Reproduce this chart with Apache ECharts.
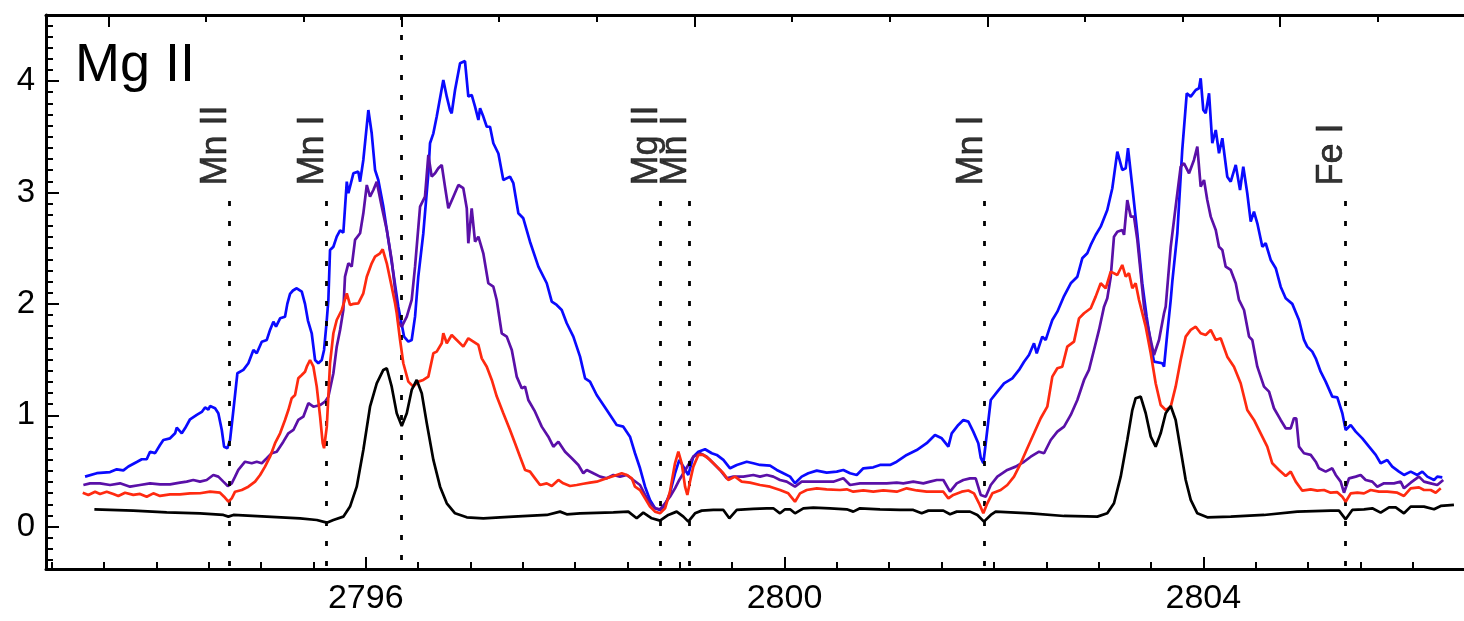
<!DOCTYPE html>
<html>
<head>
<meta charset="utf-8">
<title>Mg II</title>
<script src="https://cdn.jsdelivr.net/npm/echarts@6/dist/echarts.min.js"></script>
<style>
  html, body { margin: 0; padding: 0; background: #fff; overflow: hidden; }
  #chart { width: 1500px; height: 621px; }
</style>
</head>
<body>
<div id="chart"></div>
<script>
// Spectra around the Mg II h & k lines: [wavelength (Å), intensity]
const specBlue = [
  [2793.319,0.449],[2793.431,0.48],[2793.558,0.49],[2793.622,0.515],[2793.685,0.505],[2793.733,0.54],
  [2793.813,0.58],[2793.861,0.605],[2793.908,0.605],[2793.940,0.673],[2793.988,0.66],[2794.035,0.733],
  [2794.067,0.778],[2794.131,0.793],[2794.179,0.838],[2794.195,0.889],[2794.243,0.838],[2794.274,0.883],
  [2794.322,0.964],[2794.386,1.003],[2794.434,1.03],[2794.465,1.07],[2794.497,1.05],[2794.513,1.083],
  [2794.561,1.063],[2794.592,1.018],[2794.625,0.868],[2794.647,0.718],[2794.678,0.704],[2794.704,0.778],
  [2794.736,1.047],[2794.774,1.377],[2794.831,1.407],[2794.879,1.467],[2794.927,1.586],[2794.959,1.556],
  [2795.007,1.66],[2795.055,1.676],[2795.086,1.766],[2795.118,1.84],[2795.143,1.795],[2795.182,1.87],
  [2795.229,1.885],[2795.251,2.0],[2795.277,2.09],[2795.305,2.12],[2795.341,2.14],[2795.389,2.11],
  [2795.420,2.0],[2795.448,1.85],[2795.484,1.736],[2795.516,1.496],[2795.547,1.467],[2795.580,1.496],
  [2795.602,1.586],[2795.628,1.855],[2795.643,2.035],[2795.659,2.483],[2795.691,2.513],[2795.723,2.603],
  [2795.755,2.66],[2795.786,2.64],[2795.819,3.097],[2795.834,2.993],[2795.882,3.172],[2795.929,3.187],
  [2795.946,3.097],[2795.977,3.292],[2796.025,3.74],[2796.057,3.531],[2796.089,3.202],[2796.120,3.112],
  [2796.168,2.873],[2796.216,2.574],[2796.264,2.275],[2796.311,1.975],[2796.366,1.706],[2796.407,1.661],
  [2796.439,1.676],[2796.471,1.885],[2796.502,2.244],[2796.550,2.634],[2796.598,3.172],[2796.614,3.442],
  [2796.646,3.531],[2796.678,3.681],[2796.741,4.01],[2796.774,3.86],[2796.805,3.74],[2796.821,3.711],
  [2796.853,3.92],[2796.901,4.16],[2796.948,4.18],[2796.980,3.86],[2797.012,3.875],[2797.044,3.77],
  [2797.076,3.651],[2797.092,3.756],[2797.123,3.681],[2797.156,3.59],[2797.187,3.59],[2797.219,3.442],
  [2797.267,3.35],[2797.314,3.112],[2797.378,3.142],[2797.410,3.083],[2797.458,2.813],[2797.505,2.768],
  [2797.569,2.558],[2797.649,2.334],[2797.729,2.185],[2797.777,2.02],[2797.824,1.99],[2797.872,1.945],
  [2797.920,1.826],[2797.983,1.706],[2798.047,1.526],[2798.095,1.332],[2798.142,1.302],[2798.206,1.182],
  [2798.302,1.047],[2798.397,0.913],[2798.460,0.898],[2798.524,0.808],[2798.572,0.659],[2798.620,0.524],
  [2798.668,0.359],[2798.715,0.24],[2798.763,0.165],[2798.811,0.15],[2798.859,0.195],[2798.906,0.30],
  [2798.954,0.479],[2798.995,0.599],[2799.034,0.539],[2799.081,0.464],[2799.129,0.628],[2799.177,0.673],
  [2799.241,0.695],[2799.305,0.659],[2799.353,0.644],[2799.416,0.599],[2799.480,0.524],[2799.544,0.554],
  [2799.639,0.583],[2799.702,0.569],[2799.766,0.554],[2799.862,0.548],[2799.926,0.509],[2799.989,0.479],
  [2800.053,0.449],[2800.100,0.39],[2800.164,0.449],[2800.227,0.479],[2800.308,0.503],[2800.403,0.485],
  [2800.499,0.494],[2800.562,0.509],[2800.626,0.479],[2800.690,0.464],[2800.753,0.524],[2800.848,0.533],
  [2800.912,0.554],[2801.008,0.554],[2801.072,0.583],[2801.167,0.644],[2801.263,0.688],[2801.358,0.749],
  [2801.437,0.823],[2801.502,0.793],[2801.565,0.718],[2801.597,0.838],[2801.660,0.913],[2801.708,0.958],
  [2801.756,0.943],[2801.803,0.853],[2801.851,0.749],[2801.874,0.62],[2801.899,0.569],[2801.922,0.749],
  [2801.970,1.137],[2802.033,1.212],[2802.097,1.287],[2802.176,1.332],[2802.240,1.407],[2802.288,1.481],
  [2802.335,1.541],[2802.383,1.646],[2802.409,1.556],[2802.462,1.706],[2802.495,1.676],[2802.526,1.766],
  [2802.558,1.855],[2802.606,1.93],[2802.670,2.07],[2802.734,2.185],[2802.797,2.244],[2802.844,2.409],
  [2802.892,2.454],[2802.925,2.529],[2802.972,2.618],[2803.020,2.693],[2803.083,2.843],[2803.131,3.038],
  [2803.179,3.366],[2803.226,3.202],[2803.259,3.217],[2803.281,3.397],[2803.322,3.052],[2803.370,2.634],
  [2803.417,2.185],[2803.459,1.885],[2803.498,1.646],[2803.529,1.481],[2803.608,1.467],[2803.625,1.436],
  [2803.656,1.736],[2803.689,2.035],[2803.704,2.2],[2803.752,2.634],[2803.799,3.382],[2803.842,3.89],
  [2803.880,3.86],[2803.928,3.92],[2803.959,3.935],[2803.975,4.025],[2804.000,3.74],[2804.023,3.711],
  [2804.055,3.89],[2804.086,3.442],[2804.119,3.561],[2804.150,3.352],[2804.182,3.487],[2804.229,3.142],
  [2804.262,3.097],[2804.310,3.247],[2804.351,3.022],[2804.382,3.232],[2804.420,2.993],[2804.453,2.738],
  [2804.484,2.828],[2804.516,2.723],[2804.564,2.513],[2804.596,2.544],[2804.644,2.394],[2804.692,2.32],
  [2804.739,2.154],[2804.787,2.05],[2804.850,2.0],[2804.914,1.855],[2804.962,1.676],[2804.993,1.616],
  [2805.041,1.571],[2805.074,1.511],[2805.121,1.391],[2805.169,1.302],[2805.232,1.167],[2805.280,1.16],
  [2805.328,1.018],[2805.360,0.868],[2805.408,0.913],[2805.456,0.853],[2805.519,0.793],[2805.583,0.718],
  [2805.647,0.644],[2805.694,0.569],[2805.757,0.599],[2805.805,0.539],[2805.869,0.494],[2805.917,0.464],
  [2805.981,0.494],[2806.044,0.464],[2806.092,0.494],[2806.140,0.449],[2806.204,0.419],[2806.235,0.449],
  [2806.283,0.443]
];

const specPurple = [
  [2793.303,0.374],[2793.367,0.389],[2793.462,0.389],[2793.558,0.374],[2793.653,0.389],[2793.749,0.359],
  [2793.844,0.374],[2793.940,0.389],[2794.035,0.38],[2794.131,0.38],[2794.226,0.395],[2794.290,0.404],
  [2794.353,0.419],[2794.417,0.404],[2794.481,0.419],[2794.544,0.464],[2794.592,0.449],[2794.640,0.404],
  [2794.682,0.365],[2794.720,0.389],[2794.752,0.449],[2794.783,0.509],[2794.847,0.583],[2794.911,0.569],
  [2794.959,0.583],[2795.007,0.569],[2795.055,0.614],[2795.102,0.659],[2795.150,0.673],[2795.213,0.763],
  [2795.261,0.838],[2795.309,0.868],[2795.356,0.958],[2795.404,0.987],[2795.452,1.108],[2795.500,1.077],
  [2795.564,1.092],[2795.611,1.122],[2795.643,1.167],[2795.691,1.377],[2795.723,1.616],[2795.755,1.766],
  [2795.786,1.945],[2795.802,2.244],[2795.834,2.364],[2795.866,2.334],[2795.898,2.574],[2795.946,2.634],
  [2795.977,2.813],[2796.010,3.067],[2796.041,2.962],[2796.073,3.022],[2796.105,3.097],[2796.153,2.873],
  [2796.201,2.663],[2796.248,2.394],[2796.296,2.0],[2796.311,1.84],[2796.344,1.795],[2796.392,1.885],
  [2796.439,2.035],[2796.471,2.334],[2796.519,2.873],[2796.566,2.962],[2796.598,3.337],[2796.630,3.142],
  [2796.662,3.172],[2796.693,3.217],[2796.726,3.247],[2796.757,3.052],[2796.789,2.858],[2796.837,2.962],
  [2796.885,3.067],[2796.932,3.038],[2796.965,2.858],[2796.980,2.544],[2797.012,2.858],[2797.044,2.558],
  [2797.076,2.603],[2797.123,2.454],[2797.171,2.185],[2797.219,2.154],[2797.251,2.035],[2797.299,1.736],
  [2797.347,1.706],[2797.395,1.586],[2797.442,1.347],[2797.490,1.242],[2797.522,1.257],[2797.553,1.137],
  [2797.617,1.032],[2797.681,0.898],[2797.744,0.808],[2797.792,0.718],[2797.840,0.763],[2797.904,0.673],
  [2797.968,0.614],[2798.031,0.554],[2798.078,0.479],[2798.111,0.509],[2798.174,0.479],[2798.238,0.449],
  [2798.302,0.434],[2798.365,0.464],[2798.429,0.449],[2798.493,0.464],[2798.556,0.419],[2798.620,0.374],
  [2798.668,0.285],[2798.715,0.21],[2798.763,0.165],[2798.811,0.156],[2798.859,0.21],[2798.906,0.269],
  [2798.954,0.344],[2798.995,0.419],[2799.034,0.479],[2799.081,0.554],[2799.129,0.628],[2799.193,0.659],
  [2799.257,0.628],[2799.320,0.569],[2799.384,0.509],[2799.448,0.434],[2799.511,0.449],[2799.607,0.449],
  [2799.702,0.464],[2799.766,0.449],[2799.830,0.464],[2799.893,0.449],[2799.957,0.419],[2800.021,0.404],
  [2800.100,0.359],[2800.164,0.404],[2800.275,0.404],[2800.371,0.404],[2800.466,0.404],[2800.562,0.434],
  [2800.626,0.374],[2800.721,0.389],[2800.848,0.389],[2800.976,0.389],[2801.072,0.395],[2801.135,0.389],
  [2801.230,0.404],[2801.326,0.389],[2801.390,0.404],[2801.454,0.419],[2801.517,0.419],[2801.581,0.314],
  [2801.645,0.389],[2801.708,0.419],[2801.772,0.434],[2801.826,0.434],[2801.874,0.285],[2801.922,0.269],
  [2801.970,0.374],[2802.033,0.449],[2802.128,0.509],[2802.208,0.539],[2802.288,0.583],[2802.352,0.628],
  [2802.431,0.673],[2802.479,0.659],[2802.543,0.778],[2802.606,0.853],[2802.670,0.898],[2802.734,1.003],
  [2802.797,1.137],[2802.861,1.317],[2802.908,1.407],[2802.956,1.586],[2803.004,1.766],[2803.052,1.975],
  [2803.083,2.05],[2803.116,2.244],[2803.147,2.603],[2803.179,2.648],[2803.226,2.663],[2803.243,2.62],
  [2803.274,2.932],[2803.307,2.783],[2803.338,2.783],[2803.370,2.574],[2803.402,2.275],[2803.434,1.975],
  [2803.450,1.885],[2803.498,1.676],[2803.529,1.541],[2803.577,1.676],[2803.625,1.916],[2803.641,1.975],
  [2803.689,2.513],[2803.736,2.873],[2803.784,3.232],[2803.816,3.262],[2803.864,3.172],[2803.911,3.292],
  [2803.943,3.411],[2803.975,3.052],[2804.007,3.112],[2804.038,2.932],[2804.071,2.783],[2804.119,2.663],
  [2804.150,2.513],[2804.182,2.484],[2804.214,2.334],[2804.262,2.304],[2804.310,2.185],[2804.341,2.035],
  [2804.389,1.945],[2804.437,1.706],[2804.468,1.676],[2804.516,1.436],[2804.580,1.257],[2804.628,1.212],
  [2804.675,1.063],[2804.739,0.958],[2804.787,0.883],[2804.835,0.883],[2804.866,0.973],[2804.888,0.973],
  [2804.914,0.718],[2804.962,0.659],[2805.026,0.644],[2805.074,0.583],[2805.105,0.524],[2805.169,0.494],
  [2805.232,0.524],[2805.265,0.464],[2805.312,0.404],[2805.344,0.305],[2805.392,0.434],[2805.456,0.449],
  [2805.503,0.464],[2805.551,0.419],[2805.614,0.404],[2805.662,0.359],[2805.726,0.389],[2805.821,0.389],
  [2805.885,0.404],[2805.917,0.344],[2805.981,0.395],[2806.060,0.449],[2806.108,0.404],[2806.172,0.389],
  [2806.235,0.374],[2806.292,0.419]
];

const specRed = [
  [2793.297,0.305],[2793.351,0.285],[2793.415,0.314],[2793.462,0.294],[2793.526,0.314],[2793.589,0.294],
  [2793.637,0.276],[2793.701,0.305],[2793.780,0.285],[2793.844,0.294],[2793.908,0.269],[2793.971,0.299],
  [2794.035,0.276],[2794.131,0.29],[2794.226,0.29],[2794.322,0.299],[2794.417,0.30],[2794.513,0.314],
  [2794.608,0.305],[2794.647,0.269],[2794.688,0.224],[2794.720,0.254],[2794.752,0.314],[2794.816,0.329],
  [2794.879,0.359],[2794.943,0.404],[2794.991,0.464],[2795.038,0.539],[2795.086,0.628],[2795.134,0.749],
  [2795.182,0.838],[2795.229,0.958],[2795.261,1.047],[2795.293,1.153],[2795.325,1.182],[2795.356,1.332],
  [2795.389,1.362],[2795.420,1.391],[2795.437,1.436],[2795.468,1.496],[2795.500,1.436],[2795.532,1.257],
  [2795.564,0.987],[2795.589,0.749],[2795.602,0.704],[2795.628,0.898],[2795.659,1.467],[2795.691,1.736],
  [2795.723,1.855],[2795.771,1.945],[2795.819,2.095],[2795.850,1.99],[2795.882,2.0],[2795.929,2.005],
  [2795.977,2.095],[2796.010,2.244],[2796.057,2.364],[2796.089,2.424],[2796.137,2.454],[2796.162,2.49],
  [2796.201,2.364],[2796.248,2.154],[2796.280,2.005],[2796.296,1.916],[2796.328,1.676],[2796.359,1.467],
  [2796.407,1.302],[2796.455,1.257],[2796.502,1.302],[2796.550,1.317],[2796.598,1.347],[2796.646,1.556],
  [2796.678,1.571],[2796.726,1.646],[2796.741,1.736],[2796.774,1.646],[2796.821,1.721],[2796.869,1.676],
  [2796.932,1.616],[2796.980,1.691],[2797.028,1.661],[2797.076,1.631],[2797.108,1.511],[2797.156,1.436],
  [2797.204,1.317],[2797.251,1.17],[2797.314,1.018],[2797.378,0.868],[2797.426,0.749],[2797.474,0.628],
  [2797.522,0.509],[2797.569,0.494],[2797.617,0.434],[2797.665,0.374],[2797.729,0.389],[2797.777,0.365],
  [2797.840,0.419],[2797.887,0.389],[2797.951,0.365],[2798.015,0.374],[2798.078,0.385],[2798.142,0.395],
  [2798.206,0.404],[2798.302,0.434],[2798.397,0.464],[2798.445,0.479],[2798.493,0.464],[2798.541,0.434],
  [2798.572,0.359],[2798.620,0.329],[2798.668,0.254],[2798.715,0.18],[2798.763,0.135],[2798.811,0.12],
  [2798.859,0.165],[2798.906,0.314],[2798.954,0.569],[2798.986,0.673],[2799.018,0.569],[2799.050,0.359],
  [2799.072,0.285],[2799.097,0.404],[2799.129,0.539],[2799.177,0.644],[2799.225,0.644],[2799.289,0.599],
  [2799.353,0.539],[2799.416,0.479],[2799.463,0.419],[2799.527,0.449],[2799.591,0.404],[2799.671,0.395],
  [2799.766,0.374],[2799.862,0.359],[2799.957,0.329],[2800.036,0.299],[2800.100,0.224],[2800.148,0.299],
  [2800.212,0.329],[2800.308,0.344],[2800.403,0.335],[2800.530,0.329],[2800.594,0.335],[2800.657,0.314],
  [2800.753,0.325],[2800.848,0.314],[2800.944,0.325],[2801.072,0.314],[2801.167,0.344],[2801.263,0.325],
  [2801.358,0.314],[2801.454,0.314],[2801.517,0.314],[2801.565,0.254],[2801.612,0.285],[2801.693,0.314],
  [2801.756,0.325],[2801.810,0.299],[2801.858,0.21],[2801.899,0.12],[2801.937,0.21],[2801.985,0.299],
  [2802.065,0.329],[2802.128,0.374],[2802.192,0.449],[2802.256,0.569],[2802.319,0.704],[2802.383,0.838],
  [2802.447,0.973],[2802.510,1.077],[2802.558,1.347],[2802.606,1.422],[2802.653,1.436],[2802.701,1.616],
  [2802.765,1.661],[2802.813,1.87],[2802.861,1.916],[2802.925,1.961],[2802.972,2.065],[2803.020,2.185],
  [2803.068,2.14],[2803.116,2.289],[2803.179,2.259],[2803.226,2.349],[2803.259,2.244],[2803.290,2.275],
  [2803.322,2.14],[2803.354,2.185],[2803.386,2.035],[2803.450,1.795],[2803.498,1.556],[2803.545,1.287],
  [2803.593,1.092],[2803.641,1.047],[2803.689,1.077],[2803.736,1.257],[2803.784,1.496],[2803.832,1.706],
  [2803.880,1.766],[2803.928,1.795],[2803.975,1.736],[2804.023,1.721],[2804.071,1.766],[2804.119,1.676],
  [2804.166,1.691],[2804.229,1.526],[2804.293,1.436],[2804.357,1.287],[2804.420,1.047],[2804.484,0.958],
  [2804.548,0.838],[2804.611,0.718],[2804.659,0.569],[2804.723,0.509],[2804.787,0.455],[2804.835,0.494],
  [2804.883,0.404],[2804.946,0.323],[2805.026,0.335],[2805.089,0.323],[2805.153,0.329],[2805.217,0.305],
  [2805.280,0.31],[2805.328,0.269],[2805.360,0.224],[2805.408,0.299],[2805.471,0.305],[2805.535,0.299],
  [2805.599,0.329],[2805.678,0.314],[2805.757,0.314],[2805.853,0.305],[2805.917,0.276],[2805.981,0.344],
  [2806.060,0.353],[2806.108,0.329],[2806.172,0.329],[2806.220,0.305],[2806.268,0.344]
];

const specBlack = [
  [2793.408,0.156],[2793.780,0.144],[2794.099,0.129],[2794.417,0.12],[2794.640,0.105],[2794.688,0.09],
  [2794.736,0.105],[2795.055,0.09],[2795.373,0.075],[2795.532,0.06],[2795.628,0.036],[2795.691,0.06],
  [2795.786,0.09],[2795.850,0.18],[2795.914,0.359],[2795.977,0.688],[2796.041,1.077],[2796.105,1.287],
  [2796.168,1.407],[2796.201,1.422],[2796.248,1.257],[2796.296,1.018],[2796.344,0.904],[2796.392,1.018],
  [2796.439,1.227],[2796.487,1.317],[2796.535,1.197],[2796.583,0.928],[2796.646,0.599],[2796.710,0.359],
  [2796.774,0.21],[2796.853,0.12],[2796.965,0.084],[2797.123,0.075],[2797.283,0.084],[2797.410,0.09],
  [2797.729,0.105],[2797.856,0.135],[2797.920,0.111],[2798.047,0.12],[2798.365,0.129],[2798.508,0.135],
  [2798.588,0.075],[2798.651,0.126],[2798.732,0.075],[2798.811,0.054],[2798.890,0.105],[2798.970,0.135],
  [2799.034,0.09],[2799.081,0.045],[2799.145,0.12],[2799.209,0.144],[2799.320,0.15],[2799.416,0.15],
  [2799.473,0.075],[2799.544,0.15],[2799.702,0.159],[2799.830,0.165],[2799.893,0.165],[2799.957,0.12],
  [2800.005,0.156],[2800.053,0.156],[2800.100,0.12],[2800.180,0.165],[2800.275,0.171],[2800.435,0.165],
  [2800.594,0.156],[2800.657,0.135],[2800.721,0.165],[2800.912,0.156],[2801.103,0.15],[2801.230,0.15],
  [2801.310,0.12],[2801.374,0.144],[2801.517,0.144],[2801.581,0.111],[2801.645,0.135],[2801.772,0.135],
  [2801.842,0.105],[2801.905,0.045],[2801.970,0.105],[2802.017,0.135],[2802.352,0.12],[2802.670,0.096],
  [2802.988,0.09],[2803.083,0.12],[2803.147,0.21],[2803.211,0.449],[2803.274,0.778],[2803.322,1.047],
  [2803.354,1.153],[2803.402,1.167],[2803.450,1.018],[2803.498,0.808],[2803.545,0.718],[2803.593,0.838],
  [2803.641,1.018],[2803.689,1.083],[2803.736,0.958],[2803.784,0.688],[2803.832,0.419],[2803.880,0.24],
  [2803.943,0.12],[2804.038,0.084],[2804.262,0.09],[2804.580,0.105],[2804.898,0.135],[2805.217,0.144],
  [2805.296,0.144],[2805.360,0.066],[2805.423,0.15],[2805.535,0.156],[2805.614,0.165],[2805.694,0.126],
  [2805.774,0.174],[2805.838,0.174],[2805.917,0.12],[2805.981,0.18],[2806.108,0.18],[2806.204,0.156],
  [2806.268,0.186],[2806.394,0.195]
];

// Identified lines marked with dotted verticals
const lineNames = ['Mn II', 'Mn I', 'Mg II', 'Mn I', 'Mn I', 'Fe I'];
const lineWaves = [2794.694, 2795.624, 2798.814, 2799.088, 2801.912, 2805.356];
const lineTop = 2.924;      // where the short dotted markers begin
const labelBase = 3.063;    // where the rotated labels start
const kLineWave = 2796.34;  // Mg II k rest wavelength (velocity zero)

// Axis ranges and tick values
const X_MIN = 2792.946, X_MAX = 2806.643;
const Y_MIN = -0.38, Y_MAX = 4.593;
const waveMajor = [2796, 2800, 2804];
const waveMinor = [2793, 2793.5, 2794, 2794.5, 2795, 2795.5, 2796, 2796.5, 2797, 2797.5, 2798, 2798.5,
  2799, 2799.5, 2800, 2800.5, 2801, 2801.5, 2802, 2802.5, 2803, 2803.5, 2804, 2804.5, 2805, 2805.5, 2806, 2806.5];
const velMajor = [-300, 0, 300, 600, 900];        // km/s, top axis
const velMinor = [-300, -200, -100, 0, 100, 200, 300, 400, 500, 600, 700, 800, 900, 1000];
const fluxMajor = [0, 1, 2, 3, 4];
const fluxMinor = [];
for (let i = -3; i <= 45; i++) fluxMinor.push(+(i / 10).toFixed(1));

const C_KMS = 299792.458;
const velToWave = v => kLineWave * (1 + v / C_KMS);

const FONT = '"Liberation Sans", Arial, Helvetica, sans-serif';
const BLACK = '#000000';
const LINE_W = 2.7;

const chart = echarts.init(document.getElementById('chart'), null, { renderer: 'canvas' });

function xAxisDef(opts) {
  return Object.assign({
    type: 'value', min: X_MIN, max: X_MAX, gridIndex: 0,
    splitLine: { show: false },
    axisLine: { show: false, onZero: false },
    axisLabel: { show: false },
    axisPointer: { show: false }
  }, opts);
}
function yAxisDef(opts) {
  return Object.assign({
    type: 'value', min: Y_MIN, max: Y_MAX, gridIndex: 0,
    splitLine: { show: false },
    axisLine: { show: false, onZero: false },
    axisLabel: { show: false },
    axisPointer: { show: false }
  }, opts);
}
const frameLine = { show: true, onZero: false, lineStyle: { color: BLACK, width: 3 } };
const tickStyle = { color: BLACK, width: 2 };

const option = {
  animation: false,
  backgroundColor: '#ffffff',
  title: {
    text: 'Mg II', left: 70, top: 34,
    textStyle: { fontFamily: FONT, fontSize: 54, fontWeight: 'normal', color: BLACK }
  },
  grid: { left: 46, right: 20, top: 15, bottom: 52, containLabel: false },
  xAxis: [
    xAxisDef({
      position: 'bottom', axisLine: frameLine,
      axisTick: { show: true, inside: true, length: 12, lineStyle: tickStyle, customValues: waveMajor },
      axisLabel: {
        show: true, customValues: waveMajor, formatter: v => String(Math.round(v)),
        fontFamily: FONT, fontSize: 34, color: BLACK, margin: 13
      }
    }),
    xAxisDef({
      position: 'bottom',
      axisTick: { show: true, inside: true, length: 7, lineStyle: tickStyle, customValues: waveMinor }
    }),
    xAxisDef({
      position: 'top', axisLine: frameLine,
      axisTick: { show: true, inside: true, length: 12, lineStyle: tickStyle, customValues: velMajor.map(velToWave) }
    }),
    xAxisDef({
      position: 'top',
      axisTick: { show: true, inside: true, length: 7, lineStyle: tickStyle, customValues: velMinor.map(velToWave) }
    })
  ],
  yAxis: [
    yAxisDef({
      position: 'left', axisLine: frameLine,
      axisTick: { show: true, inside: true, length: 13, lineStyle: tickStyle, customValues: fluxMajor },
      axisLabel: {
        show: true, customValues: fluxMajor, formatter: v => String(Math.round(v)),
        fontFamily: FONT, fontSize: 33, color: BLACK, margin: 11
      }
    }),
    yAxisDef({
      position: 'left',
      axisTick: { show: true, inside: true, length: 7, lineStyle: tickStyle, customValues: fluxMinor }
    })
  ],
  series: [
    {
      name: 'blue', type: 'line', data: specBlue, showSymbol: false, symbol: 'none', z: 3,
      lineStyle: { color: '#0a0aff', width: LINE_W }
    },
    {
      name: 'purple', type: 'line', data: specPurple, showSymbol: false, symbol: 'none', z: 4,
      lineStyle: { color: '#5a10a8', width: LINE_W }
    },
    {
      name: 'red', type: 'line', data: specRed, showSymbol: false, symbol: 'none', z: 5,
      lineStyle: { color: '#ff2a10', width: LINE_W }
    },
    {
      name: 'black', type: 'line', data: specBlack, showSymbol: false, symbol: 'none', z: 6,
      lineStyle: { color: BLACK, width: LINE_W },
      markLine: {
        silent: true, symbol: ['none', 'none'], animation: false,
        label: { show: false },
        lineStyle: { color: BLACK, width: 2.8, type: [5, 15] },
        data: [[{ coord: [kLineWave, Y_MAX] }, { coord: [kLineWave, Y_MIN] }]].concat(
          lineWaves.map(w => [{ coord: [w, lineTop] }, { coord: [w, Y_MIN] }])
        )
      }
    },
    {
      name: 'line ids', type: 'scatter', symbolSize: 0, silent: true, z: 7,
      itemStyle: { color: 'rgba(0,0,0,0)' },
      data: lineNames.map((n, i) => ({ value: [lineWaves[i], labelBase], name: n })),
      label: {
        show: true, position: 'inside', rotate: 90, align: 'left', verticalAlign: 'bottom',
        lineHeight: 26, formatter: p => p.name,
        fontFamily: FONT, fontSize: 36, color: BLACK,
        textBorderColor: BLACK, textBorderWidth: 0.6
      }
    }
  ]
};
chart.setOption(option);
</script>
</body>
</html>
